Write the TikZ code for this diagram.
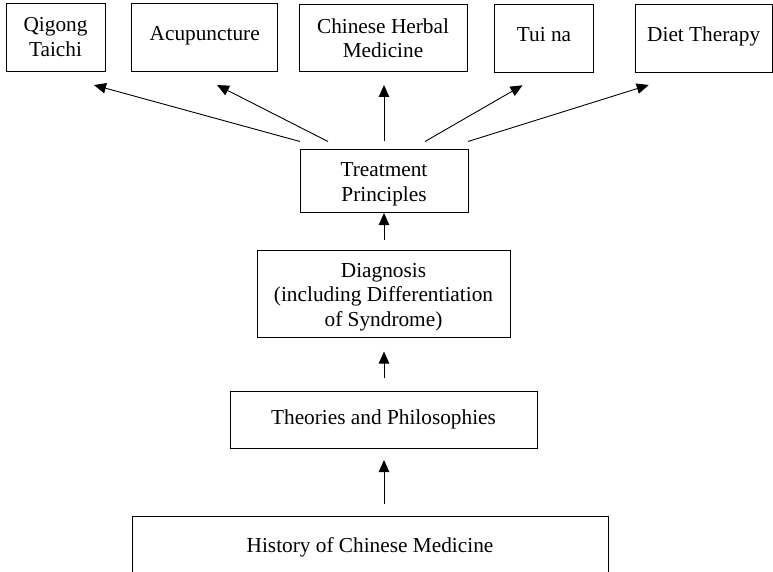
\documentclass[tikz,border=0pt]{standalone}
\usepackage{fontspec}
\setmainfont{Liberation Serif}
\usetikzlibrary{arrows.meta}

\newcommand{\toppad}{\rule{0pt}{20.5pt}}

\begin{document}
\begin{tikzpicture}[x=1pt,y=-1pt,
  box/.style={draw, line width=1pt, inner sep=0pt, outer sep=0pt, align=center,
    font=\fontsize{21.3pt}{24.5pt}\selectfont},
  oneline/.style={text height=15pt, text depth=9pt},
  arr/.style={line width=0.9pt, -{Triangle[length=12pt,width=10.5pt]}}
]
\useasboundingbox (0,0) rectangle (773,572);

% therapies
\node[box, minimum width=99pt,  minimum height=67.5pt] (qg) at (55.5,37.3)  {Qigong\\Taichi};
\node[box, oneline, minimum width=145.5pt, minimum height=67.5pt] (ac) at (204.7,37.3) {Acupuncture};
\node[box, minimum width=168pt, minimum height=67.6pt] (hb) at (383,38.2)  {Chinese Herbal\\Medicine};
\node[box, oneline, minimum width=99pt,  minimum height=68pt]   (tn) at (544,38.3)   {Tui na};
\node[box, oneline, minimum width=137pt, minimum height=68pt]   (dt) at (703.7,39)   {Diet Therapy};

% main chain
\node[box, minimum width=168pt, minimum height=62pt] (tp) at (384,181) {\toppad Treatment\\Principles};
\node[box, minimum width=253pt, minimum height=87pt] (dg) at (383.5,294)
  {\toppad Diagnosis\\(including Differentiation\\of Syndrome)};
\node[box, minimum width=307pt, minimum height=56.6pt] (th) at (383.5,419.7) {Theories and Philosophies};
\node[box, text height=14.7pt, text depth=0pt, minimum width=476pt, minimum height=58pt] (hi) at (370,545)
  {History of Chinese Medicine};

% fan-out from treatment principles
\draw[arr] ([shift={(0,-8.5)}]tp.north west) -- ([shift={(-11,14)}]qg.south east);
\draw[arr] ([shift={(28,-8.5)}]tp.north west) -- ([shift={(12.3,14)}]ac.south);
\draw[arr] ([shift={(0,-8.5)}]tp.north) -- ([shift={(0,13)}]tp.north |- hb.south);
\draw[arr] ([shift={(-43,-8.5)}]tp.north east) -- ([shift={(28,13)}]tn.south west);
\draw[arr] ([shift={(0,-8.5)}]tp.north east) -- ([shift={(13.5,12)}]dt.south west);

% upward chain
\draw[arr] ([shift={(0,-11)}]tp.south |- dg.north) -- ([shift={(0,1)}]tp.south);
\draw[arr] ([shift={(0,-13)}]tp.south |- th.north) -- ([shift={(0,14)}]tp.south |- dg.south);
\draw[arr] ([shift={(0,-12.5)}]tp.south |- hi.north) -- ([shift={(0,12)}]tp.south |- th.south);
\end{tikzpicture}
\end{document}
